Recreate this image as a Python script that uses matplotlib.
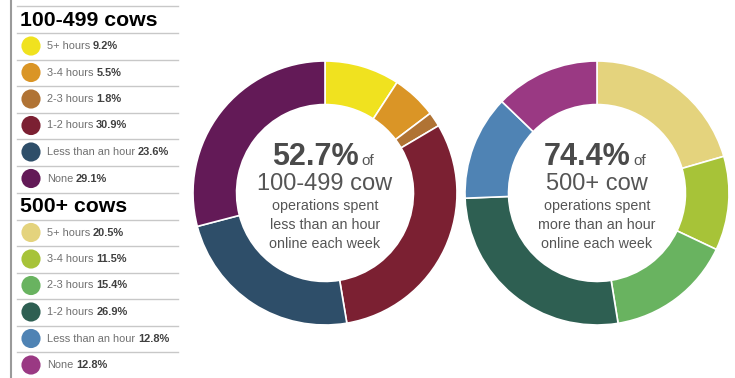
import matplotlib
matplotlib.use("Agg")
import matplotlib.pyplot as plt

# data
hours = ["5+ hours", "3-4 hours", "2-3 hours", "1-2 hours", "Less than an hour", "None"]
small_herd = [9.2, 5.5, 1.8, 30.9, 23.6, 29.1]
large_herd = [20.5, 11.5, 15.4, 26.9, 12.8, 12.8]
small_colors = ["#f0e21f", "#da9526", "#b07334", "#7b2032", "#2e4e69", "#631a57"]
large_colors = ["#e4d37d", "#a7c338", "#69b360", "#2e5f52", "#4f83b4", "#9a3983"]
groups = ["100-499 cows", "500+ cows"]
centre_big = ["52.7%", "74.4%"]
centre_mid = ["100-499 cow", "500+ cow"]
centre_small = [["operations spent", "less than an hour", "online each week"],
                ["operations spent", "more than an hour", "online each week"]]

W, H = 735, 378
FONT = ["Liberation Sans", "DejaVu Sans"]

fig = plt.figure(figsize=(W / 100, H / 100), dpi=100)
bg = fig.add_axes([0, 0, 1, 1])
bg.set_xlim(0, W)
bg.set_ylim(H, 0)
bg.axis("off")

# legend column
bg.plot([11, 11], [0, H], color="#9a9a9a", lw=1.5)
line_col = "#c8c8c8"


def legend_block(top, title, vals, colors):
    bg.plot([17, 178], [top, top], color=line_col, lw=1)
    bg.text(20, top + 14, title, fontsize=15.3, fontweight="bold",
            family=FONT, va="center", color="black")
    y = top + 27
    for name, v, c in zip(hours, vals, colors):
        bg.plot([17, 178], [y, y], color=line_col, lw=1)
        yc = y + 13
        bg.scatter([31], [yc], s=190, color=c, edgecolors="none")
        t = bg.text(47, yc, name, fontsize=7.9, family=FONT, color="#707070", va="center")
        bg.annotate(f"{v}%", xy=(1, 0.5), xycoords=t, xytext=(2, 0), textcoords="offset points",
                    fontsize=7.9, family=FONT, fontweight="bold", color="#404040", va="center")
        y += 26.5


legend_block(6, groups[0], small_herd, small_colors)
legend_block(192.5, groups[1], large_herd, large_colors)


def donut(cx, cy, vals, colors, big, mid, small):
    r = 132
    ax = fig.add_axes([(cx - r) / W, 1 - (cy + r) / H, 2 * r / W, 2 * r / H])
    ax.pie(vals, colors=colors, startangle=90, counterclock=False, radius=1,
           wedgeprops=dict(width=0.33, edgecolor="white", linewidth=1.2))
    ax.set_xlim(-1, 1)
    ax.set_ylim(-1, 1)
    ax.set_aspect("auto")
    ax.axis("off")
    base = cy - 28
    t = bg.text(cx - 10, base, big, fontsize=22, fontweight="bold", family=FONT,
                color="#4a4a4a", ha="center", va="baseline")
    # "of" sits on the same baseline, just right of the number
    bg.annotate("of", xy=(1, base), xycoords=(t, "data"), xytext=(2, 0), textcoords="offset points",
                fontsize=11, family=FONT, color="#555555", va="baseline")
    bg.text(cx, cy - 3, mid, fontsize=17, family=FONT, color="#555555",
            ha="center", va="baseline")
    for i, line in enumerate(small):
        bg.text(cx, cy + 13 + 19 * i, line, fontsize=10.3, family=FONT, color="#555555",
                ha="center", va="center")


donut(325, 193, small_herd, small_colors, centre_big[0], centre_mid[0], centre_small[0])
donut(597, 193, large_herd, large_colors, centre_big[1], centre_mid[1], centre_small[1])

fig.savefig("out.png", dpi=100)
